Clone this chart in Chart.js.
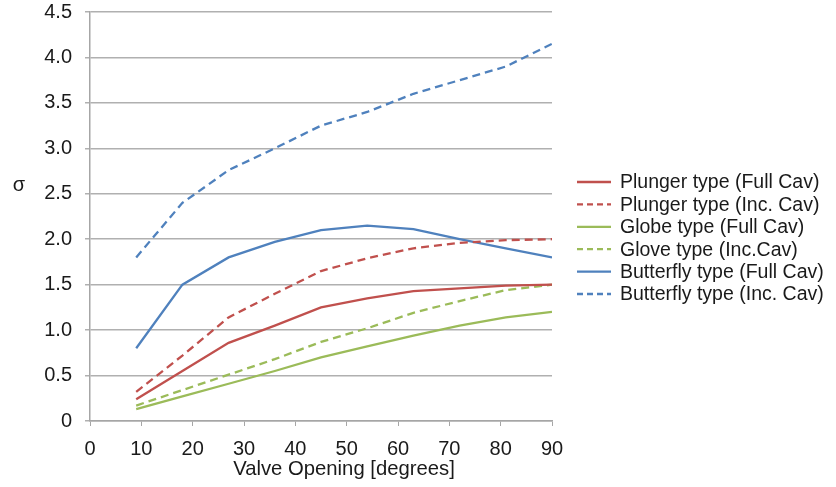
<!DOCTYPE html>
<html>
<head>
<meta charset="utf-8">
<script src="https://cdn.jsdelivr.net/npm/chart.js@4/dist/chart.umd.min.js"></script>
<style>
  html, body { margin: 0; padding: 0; background: #fff; }
  #wrap { width: 836px; height: 487px; }
</style>
</head>
<body>
<div id="wrap"><canvas id="chart-sigma"></canvas></div>
<script>
// valve opening in degrees
const opening = [9, 18, 27, 36, 45, 54, 63, 72, 81, 90];

const plungerFull = [0.24, 0.55, 0.86, 1.05, 1.25, 1.35, 1.43, 1.46, 1.49, 1.50];
const plungerInc  = [0.32, 0.72, 1.14, 1.40, 1.65, 1.79, 1.90, 1.96, 1.99, 2.00];
const globeFull   = [0.13, 0.27, 0.41, 0.55, 0.70, 0.82, 0.94, 1.05, 1.14, 1.20];
const globeInc    = [0.17, 0.34, 0.51, 0.68, 0.87, 1.02, 1.19, 1.32, 1.44, 1.50];
const butterFull  = [0.80, 1.50, 1.80, 1.97, 2.10, 2.15, 2.11, 2.00, 1.90, 1.80];
const butterInc   = [1.80, 2.40, 2.76, 3.00, 3.25, 3.40, 3.60, 3.75, 3.90, 4.15];

const labels = [
  'Plunger type (Full Cav)',
  'Plunger type (Inc. Cav)',
  'Globe type (Full Cav)',
  'Glove type (Inc.Cav)',
  'Butterfly type (Full Cav)',
  'Butterfly type (Inc. Cav)'
];

const RED = '#C0504D', GREEN = '#9BBB59', BLUE = '#4F81BD';
const FONT = '"Liberation Sans", Arial, sans-serif';
const DASH = [8, 5];

function pts(ys) {
  return ys.map((y, i) => ({ x: opening[i], y: y }));
}

function series(label, ys, color, dashed) {
  return {
    label: label,
    data: pts(ys),
    borderColor: color,
    backgroundColor: color,
    borderWidth: 2.3,
    borderDash: dashed ? DASH : [],
    pointRadius: 0,
    tension: 0,
    fill: false
  };
}

// legend + axis titles drawn by hand
const extras = {
  id: 'extras',
  afterDraw(chart) {
    const ctx = chart.ctx;
    ctx.save();
    ctx.fillStyle = '#1a1a1a';
    ctx.font = '20px ' + FONT;
    ctx.textBaseline = 'middle';

    ctx.textAlign = 'center';
    ctx.fillText('σ', 19, 185);
    ctx.font = '20.3px ' + FONT;
    ctx.fillText('Valve Opening [degrees]', 344, 469);

    ctx.font = '19.5px ' + FONT;
    ctx.textAlign = 'left';
    chart.data.datasets.forEach((ds, i) => {
      const y = 182 + i * 22.4;
      ctx.beginPath();
      ctx.strokeStyle = ds.borderColor;
      ctx.lineWidth = 2.3;
      ctx.setLineDash(ds.borderDash.length ? [6, 4] : []);
      ctx.moveTo(577, y);
      ctx.lineTo(611, y);
      ctx.stroke();
      ctx.setLineDash([]);
      ctx.fillText(ds.label, 620, y + 1);
    });
    ctx.restore();
  }
};

const chartSigma = document.getElementById('chart-sigma');

new Chart(chartSigma, {
  type: 'line',
  data: {
    datasets: [
      series(labels[0], plungerFull, RED, false),
      series(labels[1], plungerInc, RED, true),
      series(labels[2], globeFull, GREEN, false),
      series(labels[3], globeInc, GREEN, true),
      series(labels[4], butterFull, BLUE, false),
      series(labels[5], butterInc, BLUE, true)
    ]
  },
  options: {
    responsive: true,
    maintainAspectRatio: false,
    animation: false,
    layout: { padding: { left: 0, right: 284, top: 12, bottom: 0 } },
    plugins: {
      legend: { display: false },
      tooltip: { enabled: false }
    },
    scales: {
      x: {
        type: 'linear',
        min: 0,
        max: 90,
        afterFit: (s) => { s.height = 66; },
        ticks: {
          stepSize: 10,
          padding: 11,
          color: '#1a1a1a',
          font: { family: FONT, size: 20 }
        },
        grid: {
          drawOnChartArea: false,
          tickLength: 5,
          color: '#a6a6a6'
        },
        border: { color: '#a6a6a6', width: 1.5 }
      },
      y: {
        min: 0,
        max: 4.5,
        afterFit: (s) => {
          s.width = 90;
          s.paddingTop = 0;
          s.paddingBottom = 0;
        },
        ticks: {
          stepSize: 0.5,
          padding: 13,
          color: '#1a1a1a',
          font: { family: FONT, size: 20 },
          callback: (v) => v === 0 ? '0' : v.toFixed(1)
        },
        grid: {
          color: '#b0b0b0',
          lineWidth: 1.5,
          tickLength: 5
        },
        border: { color: '#a6a6a6', width: 1.5 }
      }
    }
  },
  plugins: [extras]
});
</script>
</body>
</html>
